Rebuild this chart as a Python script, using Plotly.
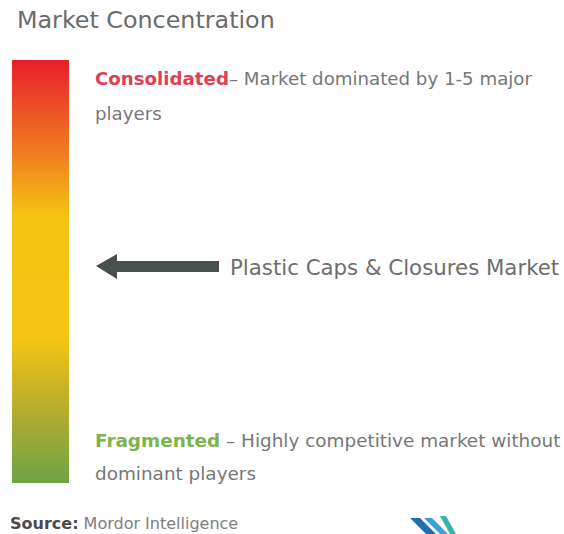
import numpy as np
import plotly.graph_objects as go

W, H = 564, 534

title_text = "Market Concentration"
gradient_stops = [0.0, 0.21, 0.37, 0.66, 0.82, 1.0]
gradient_colors = ["#e8202a", "#f07a22", "#f5c413", "#f4c514", "#b9ad2c", "#6ea445"]
levels = ["Consolidated", "Fragmented"]
level_desc = [["– Market dominated by 1-5 major", "players"],
              [" – Highly competitive market without", "dominant players"]]
market_label = "Plastic Caps & Closures Market"
source_label = ["Source:", "Mordor Intelligence"]

bar_top, bar_bot, bar_left, bar_right = 60, 483, 12, 69
n = 200
y_edges = np.linspace(bar_top, bar_bot, n + 1)
z = np.linspace(0, 1, n).reshape(n, 1)

fig = go.Figure()
fig.add_trace(go.Heatmap(
    z=z, x=[bar_left, bar_right], y=y_edges,
    colorscale=[[s, c] for s, c in zip(gradient_stops, gradient_colors)],
    showscale=False, hoverinfo="skip", zmin=0, zmax=1,
))

gray = "#777777"
font = "'DejaVu Sans', sans-serif"
ann = []
ann.append(dict(x=15, y=20, text=title_text, font=dict(size=23.8, color="#6b6b6b", family=font)))
ann.append(dict(x=93, y=78,
                text=f"<b><span style='color:#df3f55'>{levels[0]}</span></b>{level_desc[0][0]}",
                font=dict(size=18.2, color=gray, family=font)))
ann.append(dict(x=93, y=113, text=level_desc[0][1], font=dict(size=18.2, color=gray, family=font)))
ann.append(dict(x=228, y=267, text=market_label, font=dict(size=21.3, color="#6e6e6e", family=font)))
ann.append(dict(x=93, y=440,
                text=f"<b><span style='color:#7cb54a'>{levels[1]}</span></b>{level_desc[1][0]}",
                font=dict(size=18.4, color=gray, family=font)))
ann.append(dict(x=93, y=473, text=level_desc[1][1], font=dict(size=18.4, color=gray, family=font)))
ann.append(dict(x=8, y=523,
                text=f"<b><span style='color:#4a4a4a'>{source_label[0]}</span></b> {source_label[1]}",
                font=dict(size=16, color="#808080", family=font)))
for a in ann:
    a.update(xref="x", yref="y", xanchor="left", yanchor="middle", showarrow=False)

shapes = [
    dict(type="path", path="M 96 266 L 117 254 L 117 261 L 219 261 L 219 272 L 117 272 L 117 279 Z",
         fillcolor="#46514f", line=dict(width=0), xref="x", yref="y"),
    dict(type="path", path="M 410 518 L 420 518 L 436 534 L 426 534 Z",
         fillcolor="#1f6fae", line=dict(width=0), xref="x", yref="y"),
    dict(type="path", path="M 424 518 L 432 518 L 448 534 L 440 534 Z",
         fillcolor="#3aa0d8", line=dict(width=0), xref="x", yref="y"),
    dict(type="path", path="M 440 516 L 446 516 L 456 534 L 450 534 Z",
         fillcolor="#35b4a8", line=dict(width=0), xref="x", yref="y"),
]

fig.update_layout(
    width=W, height=H, margin=dict(l=0, r=0, t=0, b=0),
    paper_bgcolor="white", plot_bgcolor="white",
    xaxis=dict(range=[0, W], visible=False, fixedrange=True),
    yaxis=dict(range=[H, 0], visible=False, fixedrange=True),
    annotations=ann, shapes=shapes, showlegend=False,
)
fig.write_html(
    "out.html",
    config={"displayModeBar": False},
    post_script="document.body.style.margin='0';document.body.style.overflow='hidden';",
)
